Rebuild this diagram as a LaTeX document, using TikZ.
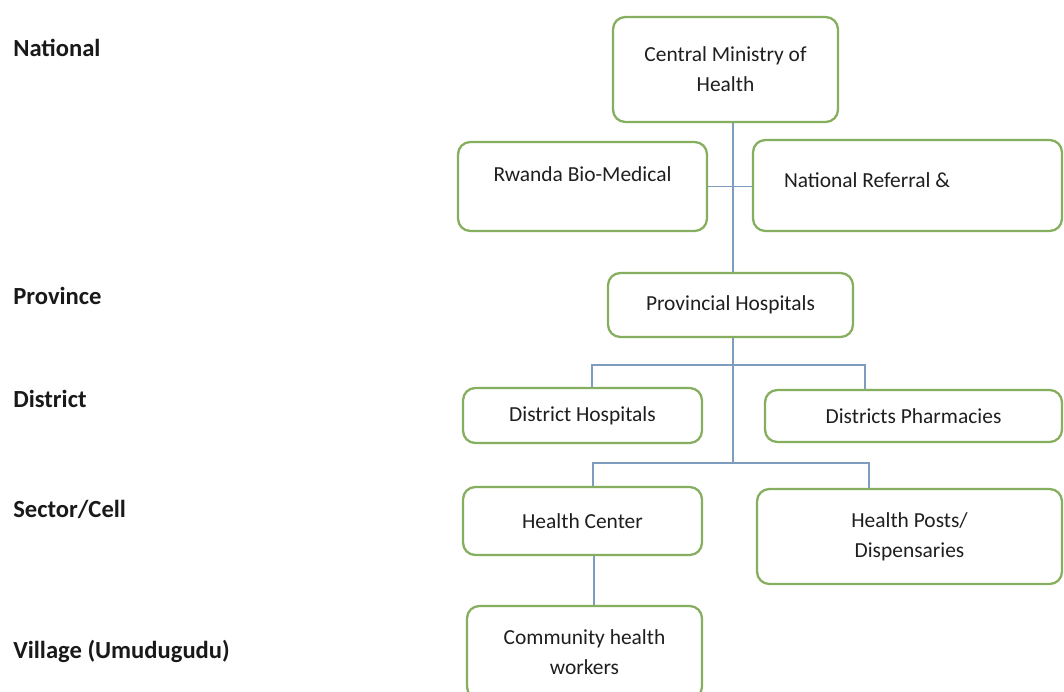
\documentclass[tikz,border=0pt]{standalone}
\usepackage{fontspec}
\setmainfont{Carlito}
\definecolor{boxgreen}{HTML}{86AE5F}
\definecolor{linkblue}{HTML}{7E9CBD}
\definecolor{boxtext}{HTML}{1F1F1F}
\usepackage{tikz}
\usetikzlibrary{
  positioning,
  calc,
}

\begin{document}
\begin{tikzpicture}[
  x=0.02cm, y=-0.02cm,
  unit/.style={
    draw=boxgreen, line width=1.3pt, fill=white, rounded corners=7pt,
    font=\fontsize{12.2}{17}\selectfont, text=boxtext, align=center,
    inner sep=0pt,
  },
  unittext/.style={
    anchor=base, font=\fontsize{12.2}{17}\selectfont, text=boxtext,
    inner sep=0pt,
  },
  level/.style={
    anchor=base west, font=\fontsize{14}{17}\selectfont\bfseries,
    text=black!90, inner sep=0pt,
  },
  link/.style={
    draw=linkblue, line width=0.6pt,
  },
]
  \useasboundingbox (0,0) rectangle (1064,692);

  % --- level names ---
  \node[level] (lvl-national) at (13,57)  {National};
  \node[level] (lvl-province) at (13,305) {Province};
  \node[level] (lvl-district) at (13,407) {District};
  \node[level] (lvl-sector)   at (13,517) {Sector/Cell};
  \node[level] (lvl-village)  at (13,658) {Village (Umudugudu)};

  % --- national ---
  \node[unit, minimum width=4.5cm, minimum height=2.1cm] (moh) at (725.5,69.5)
    {Central Ministry of\\Health};
  \node[unit, minimum width=4.98cm, minimum height=1.78cm] (rbc) at (582.5,186.5) {};
  \node[unittext] (rbc-text) at (582.5,182) {Rwanda Bio-Medical};
  \node[unit, minimum width=6.18cm, minimum height=1.82cm] (natref) at (907.5,185.5) {};
  \node[unittext] (natref-text) at (867,188) {National Referral \&};

  % --- province / district ---
  \node[unit, minimum width=4.9cm, minimum height=1.28cm] (prov) at (730.5,305)
    {Provincial Hospitals};
  \node[unit, minimum width=4.78cm, minimum height=1.1cm] (dhosp) at (582.5,415.5)
    {District Hospitals};
  \node[unit, minimum width=5.94cm, minimum height=1.04cm] (dpharm) at (913.5,416)
    {Districts Pharmacies};

  % --- sector / village ---
  \node[unit, minimum width=4.78cm, minimum height=1.36cm] (hc) at (582.5,521)
    {Health Center};
  \node[unit, minimum width=6.1cm, minimum height=1.9cm] (hpost) at (909.5,536.5)
    {Health Posts/\\Dispensaries};
  \node[unit, minimum width=4.7cm, minimum height=1.86cm] (chw) at (584.5,652.5)
    {Community health\\workers};

  % --- links ---
  \coordinate (trunk) at (733,463);
  \coordinate (split3w) at (592,365);
  \coordinate (split3e) at (865,365);
  \coordinate (split4w) at (593,463);
  \coordinate (split4e) at (869,463);
  \coordinate (hcdrop)  at (594,560);

  \draw[link] (moh.south -| trunk) -- (prov.north -| trunk);
  \draw[link] (prov.south -| trunk) -- (trunk);
  \draw[link] (rbc.east) -- (rbc.east -| natref.west);
  \draw[link] (dhosp.north -| split3w) -- (split3w) -- (split3e) -- (dpharm.north -| split3e);
  \draw[link] (hc.north -| split4w) -- (split4w) -- (split4e) -- (hpost.north -| split4e);
  \draw[link] (hc.south -| hcdrop) -- (chw.north -| hcdrop);
\end{tikzpicture}
\end{document}
